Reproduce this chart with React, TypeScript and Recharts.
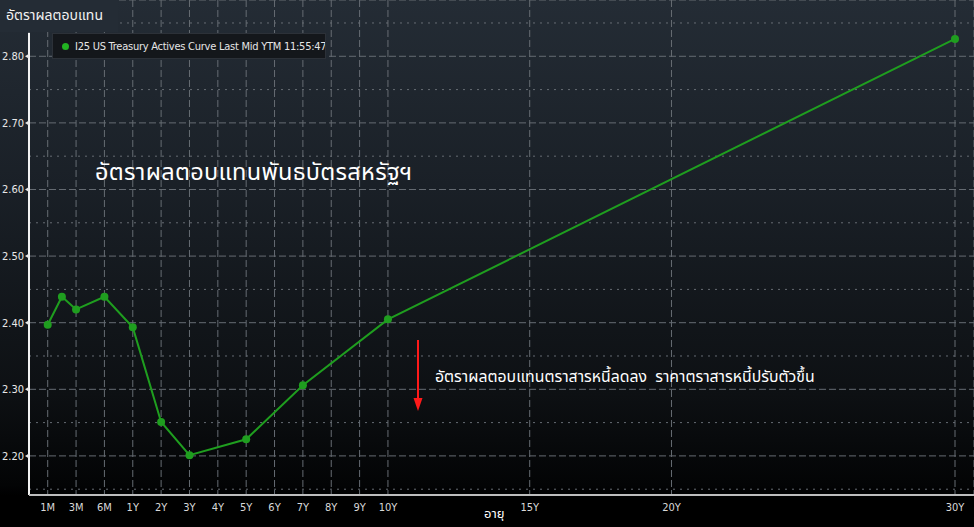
import React from "react";
import { LineChart, Line, XAxis, YAxis, CartesianGrid, ReferenceLine } from "recharts";

// tenor points on the curve (slot = position on the Bloomberg-style tenor axis)
const tenorLabels = ["1M", "2M", "3M", "6M", "1Y", "2Y", "3Y", "5Y", "7Y", "10Y", "30Y"];
const tenorSlots = [0, 0.5, 1, 2, 3, 4, 5, 7, 9, 12, 32];
const yields = [2.397, 2.439, 2.42, 2.439, 2.393, 2.251, 2.201, 2.225, 2.306, 2.405, 2.826];

const xTickLabels = ["1M", "3M", "6M", "1Y", "2Y", "3Y", "4Y", "5Y", "6Y", "7Y", "8Y", "9Y", "10Y", "15Y", "20Y", "30Y"];
const xTickSlots = [0, 1, 2, 3, 4, 5, 6, 7, 8, 9, 10, 11, 12, 17, 22, 32];

const yTicks = [2.2, 2.3, 2.4, 2.5, 2.6, 2.7, 2.8];
const yMinor = [2.15, 2.25, 2.35, 2.45, 2.55, 2.65, 2.75, 2.85];

const data = tenorLabels.map((t, i) => ({ tenor: t, slot: tenorSlots[i], yld: yields[i] }));

const W = 974;
const H = 527;
const X_DOMAIN: [number, number] = [-0.66, 32.67];
const Y_DOMAIN: [number, number] = [2.1413, 2.8845];
const GREEN = "#1f9e1f";
const GRID = "#666c73";
const THAI = "'Noto Sans Thai', 'Noto Sans', 'DejaVu Sans', sans-serif";
const COND = "'Liberation Sans Narrow', 'DejaVu Sans Condensed', 'Roboto Condensed', sans-serif";

function YTick({ x, y, payload }: any) {
  return (
    <g>
      <text x={x - 1} y={y} dy={4} textAnchor="end" fill="#e8e8e8" fontSize={11} fontFamily={COND}>
        {payload.value.toFixed(2)}
      </text>
      <path d={`M${x} ${y} L${x + 4} ${y - 2.5} L${x + 4} ${y + 2.5} Z`} fill="#e8e8e8" />
    </g>
  );
}

export default function App() {
  return (
    <div
      style={{
        position: "absolute",
        left: 0,
        top: 0,
        width: W,
        height: H,
        overflow: "hidden",
        background: "linear-gradient(180deg, #242c35 0%, #1a2027 35%, #0d1013 75%, #030405 92%, #000 94%)",
        fontFamily: THAI,
      }}
    >
      <LineChart width={W} height={H} data={data} margin={{ top: 0, right: 0, bottom: 0, left: 0 }}>
        <CartesianGrid horizontal={false} stroke={GRID} strokeDasharray="7 3" />
        <CartesianGrid vertical={false} stroke={GRID} strokeDasharray="7 3" />
        {yMinor.map((v) => (
          <ReferenceLine key={v} y={v} stroke={GRID} strokeDasharray="2 5" ifOverflow="visible" />
        ))}
        <XAxis
          type="number"
          dataKey="slot"
          domain={X_DOMAIN}
          ticks={xTickSlots}
          tickFormatter={(v: number) => xTickLabels[xTickSlots.indexOf(v)]}
          height={32}
          tickLine={false}
          axisLine={{ stroke: "#bdbdbd", strokeWidth: 2 }}
          tick={{ fill: "#d8d8d8", fontSize: 11, fontFamily: COND }}
          interval={0}
          allowDataOverflow
        />
        <YAxis
          type="number"
          domain={Y_DOMAIN}
          ticks={yTicks}
          width={29}
          tickSize={4}
          tickMargin={0}
          tickLine={false}
          axisLine={false}
          tick={<YTick />}
          allowDataOverflow
        />
        <ReferenceLine
          segment={[
            { x: X_DOMAIN[0], y: 2.835 },
            { x: X_DOMAIN[0], y: Y_DOMAIN[0] },
          ]}
          stroke="#f2f2f2"
          strokeWidth={2}
          ifOverflow="visible"
        />
        <Line
          type="linear"
          dataKey="yld"
          stroke={GREEN}
          strokeWidth={2}
          dot={{ r: 4, fill: GREEN, stroke: GREEN, strokeWidth: 0 }}
          isAnimationActive={false}
        />
      </LineChart>

      {/* red down arrow annotation */}
      <svg style={{ position: "absolute", left: 410, top: 338 }} width={16} height={76}>
        <line x1={8} y1={2} x2={8} y2={62} stroke="#ff1a1a" strokeWidth={2} />
        <path d="M3.5 60 L12.5 60 L8 73 Z" fill="#ff1a1a" />
      </svg>

      <div
        style={{
          position: "absolute",
          left: 0,
          top: 0,
          width: 118,
          height: 32,
          background: "#242c35",
        }}
      />
      <div style={{ position: "absolute", left: 6, top: 5, color: "#f2f2f2", fontSize: 14 }}>อัตราผลตอบแทน</div>

      <div
        style={{
          position: "absolute",
          left: 52,
          top: 33,
          width: 274,
          height: 26,
          background: "#14171b",
          border: "1px solid #2c3138",
          boxSizing: "border-box",
          display: "flex",
          alignItems: "center",
          paddingLeft: 9,
          gap: 6,
          color: "#e6e6e6",
          fontSize: 11,
          letterSpacing: -0.25,
          fontFamily: COND,
          whiteSpace: "nowrap",
          overflow: "hidden",
        }}
      >
        <span
          style={{ width: 7, height: 7, flexShrink: 0, borderRadius: "50%", background: "#22b322", display: "inline-block" }}
        />
        I25 US Treasury Actives Curve Last Mid YTM 11:55:47
      </div>

      <div style={{ position: "absolute", left: 95, top: 155, color: "#ffffff", fontSize: 23.5, letterSpacing: 0.3 }}>
        อัตราผลตอบแทนพันธบัตรสหรัฐฯ
      </div>
      <div style={{ position: "absolute", left: 435, top: 365, color: "#ffffff", fontSize: 15.8 }}>
        อัตราผลตอบแทนตราสารหนี้ลดลง&nbsp; ราคาตราสารหนี้ปรับตัวขึ้น
      </div>
      <div style={{ position: "absolute", left: 484, top: 504, color: "#ffffff", fontSize: 13 }}>อายุ</div>
    </div>
  );
}
